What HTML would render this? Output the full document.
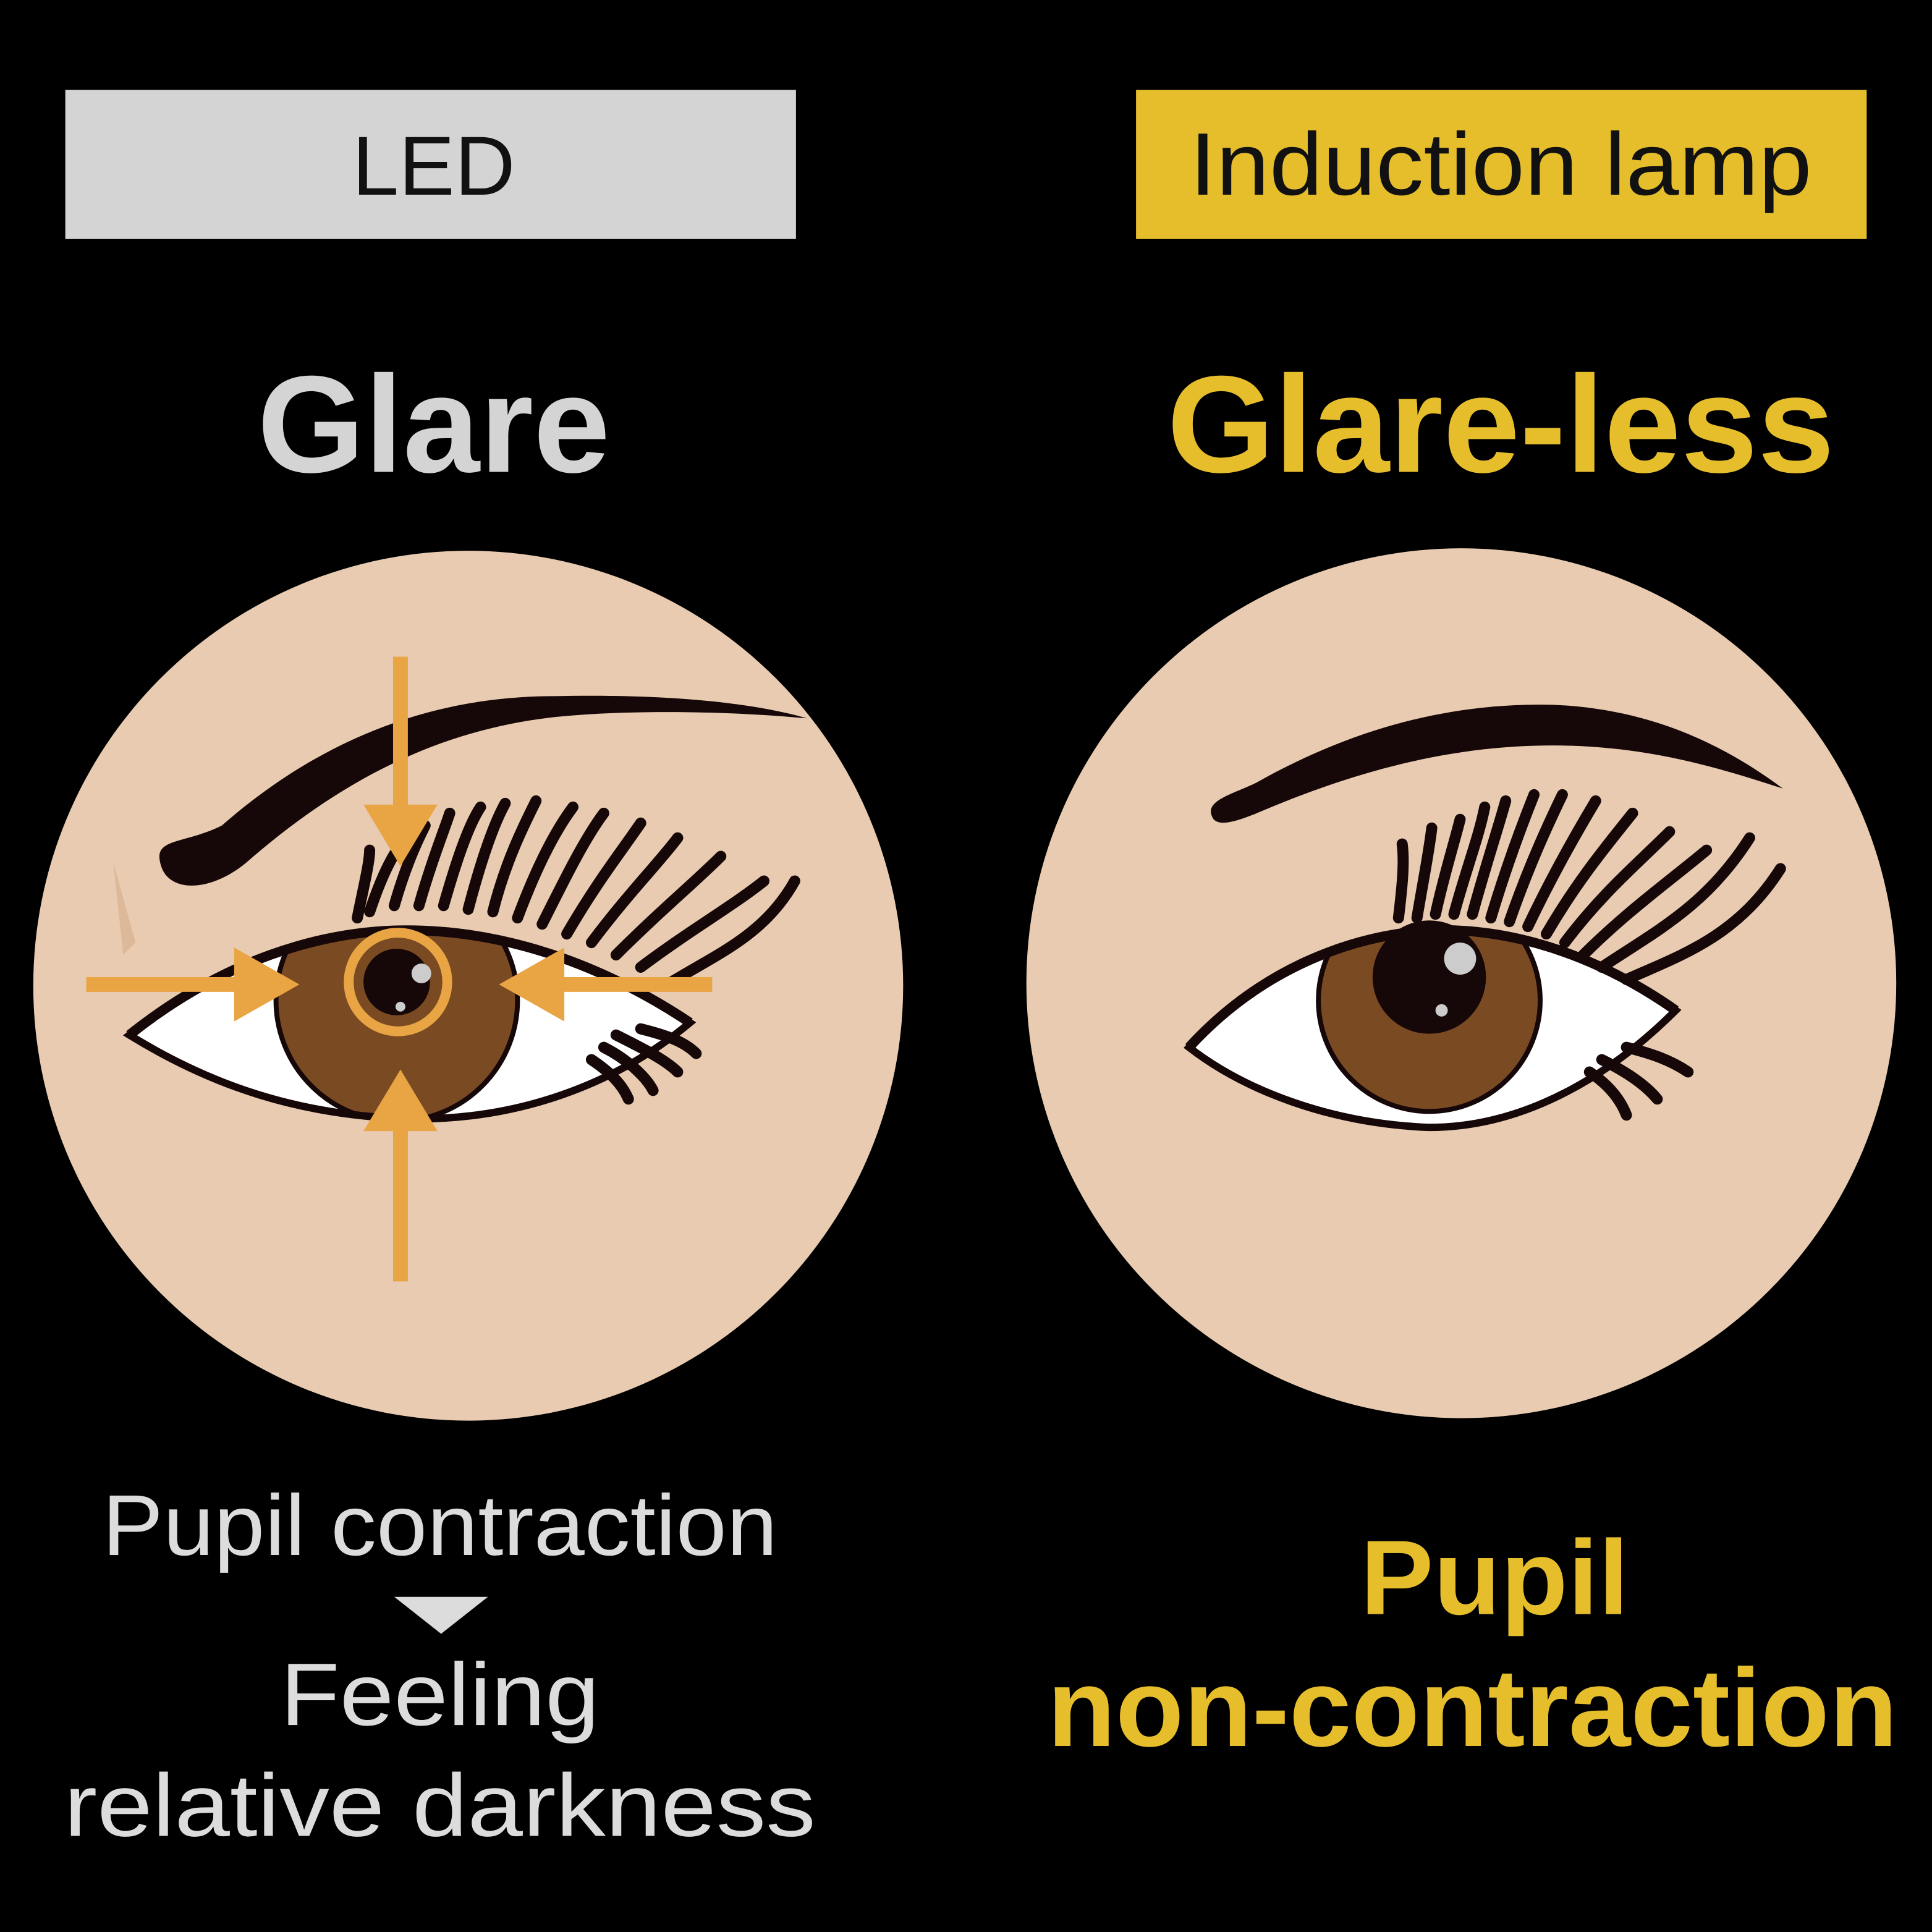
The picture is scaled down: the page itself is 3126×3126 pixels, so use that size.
<!DOCTYPE html>
<html><head><meta charset="utf-8"><style>
html,body{margin:0;padding:0;background:#000;}
svg{display:block;}
</style></head><body>
<svg width="3126" height="3126" viewBox="0 0 1568 1568" xmlns="http://www.w3.org/2000/svg" font-family="Liberation Sans, DejaVu Sans, sans-serif">
<defs>
<clipPath id="le"><path d="M105,840 C180,780 260,755 330,755 C420,755 500,790 560,830 C500,880 420,910 330,908 C240,905 170,880 105,840Z"/></clipPath>
<clipPath id="re"><path d="M965,850 C1020,790 1090,760 1160,755 C1240,752 1310,785 1360,820 C1310,870 1240,915 1160,915 C1080,912 1010,885 965,850Z"/></clipPath>
</defs>
<rect width="1568" height="1568" fill="#000"/>
<rect x="53" y="73" width="593" height="121" fill="#d4d4d4"/>
<text x="352" y="158" font-size="68" text-anchor="middle" fill="#111">LED</text>
<rect x="922" y="73" width="593" height="121" fill="#e6be2c"/>
<text x="1218" y="158" font-size="72" text-anchor="middle" fill="#111" textLength="505" lengthAdjust="spacingAndGlyphs">Induction lamp</text>
<text x="352" y="383" font-size="112" font-weight="bold" text-anchor="middle" fill="#d4d4d4">Glare</text>
<text x="1218" y="383" font-size="112" font-weight="bold" text-anchor="middle" fill="#e6be2c">Glare-less</text>

<circle cx="380" cy="800" r="353" fill="#e8cbb0"/>
<circle cx="1186" cy="798" r="353" fill="#e8cbb0"/>

<!-- left eye -->
<path d="M130,700 C125,680 150,685 180,670 C260,600 350,565 450,565 C540,563 610,570 655,583 C600,578 520,575 450,582 C360,592 280,630 200,700 C170,725 135,725 130,700Z" fill="#160709"/>
<path d="M92,700 L110,765 L100,775 Z" fill="#d8b090" opacity="0.7"/>
<path d="M105,840 C180,780 260,755 330,755 C420,755 500,790 560,830 C500,880 420,910 330,908 C240,905 170,880 105,840Z" fill="#fff"/>
<g clip-path="url(#le)">
<circle cx="322" cy="812" r="98" fill="#7a4a22" stroke="#160709" stroke-width="4"/>
</g>
<path d="M105,840 C180,780 260,755 330,755 C420,755 500,790 560,830 C500,880 420,910 330,908 C240,905 170,880 105,840Z" fill="none" stroke="#160709" stroke-width="6"/>
<path d="M105,840 C180,780 260,755 330,755 C420,755 500,790 560,830" fill="none" stroke="#160709" stroke-width="8"/>
<circle cx="322" cy="797" r="27" fill="#160709"/>
<circle cx="342" cy="790" r="8" fill="#ccc"/>
<circle cx="325" cy="817" r="4" fill="#ccc"/>
<g stroke="#160709" stroke-width="9" fill="none" stroke-linecap="round">
<path d="M290,745 C295,720 300,700 300,690"/>
<path d="M300,740 C310,710 320,690 330,680"/>
<path d="M320,735 C330,700 340,680 345,670"/>
<path d="M340,735 C350,700 360,675 365,660"/>
<path d="M360,735 C370,700 380,670 390,655"/>
<path d="M380,738 C390,700 400,670 410,652"/>
<path d="M400,740 C410,700 425,670 435,650"/>
<path d="M420,745 C435,705 450,675 465,655"/>
<path d="M440,750 C460,710 475,680 490,660"/>
<path d="M460,758 C485,715 505,690 520,668"/>
<path d="M480,765 C510,725 535,700 550,680"/>
<path d="M500,775 C535,740 565,715 585,695"/>
<path d="M520,785 C560,755 595,735 620,715"/>
<path d="M540,800 C580,775 620,760 645,715"/>
<path d="M500,840 C520,850 540,860 550,870"/>
<path d="M490,850 C510,860 525,875 530,885"/>
<path d="M480,860 C495,870 505,880 510,892"/>
<path d="M520,835 C540,840 555,845 565,855"/>
</g>
<g fill="#e9a444" stroke="none">
<rect x="319" y="533" width="12" height="125"/>
<polygon points="295,653 355,653 325,703"/>
<rect x="319" y="915" width="12" height="125"/>
<polygon points="295,918 355,918 325,868"/>
<rect x="70" y="793" width="125" height="12"/>
<polygon points="190,769 190,829 243,799"/>
<rect x="455" y="793" width="123" height="12"/>
<polygon points="458,769 458,829 405,799"/>
</g>
<circle cx="323" cy="797" r="40" fill="none" stroke="#e9a444" stroke-width="8"/>

<!-- right eye -->
<path d="M985,665 C975,650 1000,645 1020,635 C1100,590 1180,570 1260,572 C1340,575 1400,605 1447,640 C1400,625 1340,605 1260,605 C1170,605 1090,630 1020,660 C1000,668 990,670 985,665Z" fill="#160709"/>
<path d="M965,850 C1020,790 1090,760 1160,755 C1240,752 1310,785 1360,820 C1310,870 1240,915 1160,915 C1080,912 1010,885 965,850Z" fill="#fff"/>
<g clip-path="url(#re)">
<circle cx="1160" cy="812" r="90" fill="#7a4a22" stroke="#160709" stroke-width="4"/>
</g>
<path d="M965,850 C1020,790 1090,760 1160,755 C1240,752 1310,785 1360,820 C1310,870 1240,915 1160,915 C1080,912 1010,885 965,850Z" fill="none" stroke="#160709" stroke-width="6"/>
<path d="M965,850 C1020,790 1090,760 1160,755 C1240,752 1310,785 1360,820" fill="none" stroke="#160709" stroke-width="8"/>
<circle cx="1160" cy="793" r="46" fill="#160709"/>
<circle cx="1185" cy="778" r="13" fill="#ccc"/>
<circle cx="1170" cy="820" r="5" fill="#ccc"/>
<g stroke="#160709" stroke-width="9" fill="none" stroke-linecap="round">
<path d="M1135,745 C1138,720 1140,700 1138,685"/>
<path d="M1150,745 C1155,715 1160,690 1162,672"/>
<path d="M1165,742 C1172,710 1180,685 1185,665"/>
<path d="M1180,742 C1190,705 1200,680 1205,655"/>
<path d="M1195,742 C1205,705 1215,675 1222,650"/>
<path d="M1210,745 C1222,705 1235,670 1245,645"/>
<path d="M1225,748 C1240,705 1255,672 1268,645"/>
<path d="M1240,752 C1260,710 1280,675 1295,650"/>
<path d="M1255,758 C1280,715 1305,685 1325,660"/>
<path d="M1270,765 C1300,725 1330,700 1355,675"/>
<path d="M1285,775 C1320,740 1355,715 1385,690"/>
<path d="M1300,785 C1345,755 1385,735 1420,680"/>
<path d="M1320,795 C1365,775 1410,760 1445,705"/>
<path d="M1300,860 C1320,870 1335,880 1345,892"/>
<path d="M1290,870 C1305,880 1315,892 1320,905"/>
<path d="M1320,850 C1340,855 1355,860 1370,870"/>
</g>

<text x="357" y="1262" font-size="70" text-anchor="middle" fill="#dcdcdc" textLength="548" lengthAdjust="spacingAndGlyphs">Pupil contraction</text>
<polygon points="320,1296 396,1296 358,1326" fill="#dcdcdc"/>
<text x="357" y="1400" font-size="72" text-anchor="middle" fill="#dcdcdc" textLength="259" lengthAdjust="spacingAndGlyphs">Feeling</text>
<text x="357" y="1490" font-size="72" text-anchor="middle" fill="#dcdcdc" textLength="610" lengthAdjust="spacingAndGlyphs">relative darkness</text>
<text x="1213" y="1310" font-size="86" font-weight="bold" text-anchor="middle" fill="#e6be2c" textLength="218" lengthAdjust="spacingAndGlyphs">Pupil</text>
<text x="1195" y="1417" font-size="90" font-weight="bold" text-anchor="middle" fill="#e6be2c" textLength="690" lengthAdjust="spacingAndGlyphs">non-contraction</text>
</svg>
</body></html>
